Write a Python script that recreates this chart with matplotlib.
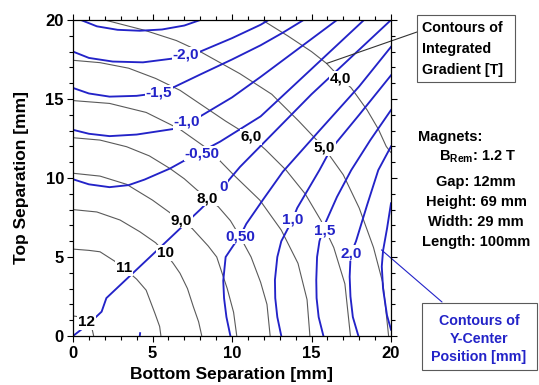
import matplotlib
matplotlib.use("Agg")
import matplotlib.pyplot as plt
from matplotlib.patches import Rectangle

plt.rcParams['font.family'] = ['Liberation Sans', 'DejaVu Sans']
plt.rcParams['font.weight'] = 'bold'

# --- contour traces (mm, mm) ---
# integrated gradient [T] (grey lines)
grad_12_x = [0, 0.5, 0.9, 1.2, 1.3]
grad_12_y = [1.27, 1.2, 0.9, 0.45, 0]
grad_11_x = [0, 1.0, 1.7, 2.6, 3.2, 4.0, 4.6, 5.15, 5.45, 5.53]
grad_11_y = [5.5, 5.42, 5.33, 4.75, 4.3, 3.6, 2.9, 1.44, 0.6, 0]
grad_10_x = [0, 1.5, 2.96, 4.2, 5.2, 5.8, 6.3, 6.73, 7.2, 7.57, 7.9, 8.1]
grad_10_y = [8.0, 7.85, 7.34, 6.6, 5.9, 5.25, 4.6, 3.97, 3.0, 1.85, 0.9, 0]
grad_9_x = [0, 1.7, 3.37, 5.0, 6.1, 6.8, 7.5, 8.5, 9.04, 9.7, 10.1, 10.3]
grad_9_y = [10.3, 10.12, 9.6, 8.6, 7.8, 7.34, 6.8, 5.7, 5.0, 3.0, 1.5, 0]
grad_8_x = [0, 1.7, 3.37, 4.8, 6.1, 7.0, 7.8, 8.45, 9.14, 9.9, 10.5, 11.2, 11.8, 12.2, 12.4]
grad_8_y = [12.55, 12.4, 11.98, 11.4, 10.6, 9.95, 9.24, 8.7, 8.18, 7.3, 6.3, 5.0, 3.4, 2.0, 0]
grad_7_x = [0, 2.3, 4.6, 6.7, 8.6, 10.15, 11.75, 13.1, 14.15, 14.72, 14.9]
grad_7_y = [14.9, 14.72, 14.15, 13.1, 11.75, 10.15, 8.6, 6.7, 4.6, 2.3, 0]
grad_6_x = [0, 1.7, 3.5, 5.2, 6.73, 8.2, 9.6, 11.2, 12.1, 13.4, 14.6, 15.6, 16.4, 17.1, 17.45]
grad_6_y = [17.45, 17.3, 16.95, 16.3, 15.55, 14.55, 13.6, 12.6, 11.8, 10.5, 9.0, 7.3, 5.6, 3.3, 0]
grad_5_x = [2.0, 4.5, 6.5, 8.0, 10.5, 12.5, 14.2, 15.8, 17.0, 18.0, 18.9, 19.5, 19.85]
grad_5_y = [20, 19.35, 18.7, 18.0, 16.6, 15.3, 13.6, 11.9, 10.2, 8.1, 5.6, 3.3, 0]
grad_4_x = [11.9, 13.5, 15.0, 15.95, 16.85, 17.5, 18.5, 19.2, 19.7, 20]
grad_4_y = [20, 19.0, 18.0, 17.25, 16.3, 15.7, 14.3, 13.1, 12.0, 11.6]

# y-center position [mm] (blue lines)
ypos_m25_x = [0.5, 1.5, 2.8, 4.2, 5.6, 7.0, 8.0]
ypos_m25_y = [20, 19.6, 19.38, 19.32, 19.4, 19.65, 20]
ypos_m20_x = [0, 1, 2.5, 4.4, 6.2, 8.0, 10.0, 11.8, 12.3]
ypos_m20_y = [18.0, 17.6, 17.37, 17.32, 17.55, 18.0, 18.85, 19.7, 20]
ypos_m15_x = [0, 1, 2.3, 4.0, 5.4, 6.2, 8.0, 10.0, 11.8, 13.2, 14.5]
ypos_m15_y = [15.7, 15.35, 15.15, 15.2, 15.38, 15.68, 16.55, 17.5, 18.4, 19.2, 20]
ypos_m10_x = [0, 1, 2.3, 4.0, 6.3, 8.0, 10.0, 11.8, 14.2, 16.6]
ypos_m10_y = [13.05, 12.8, 12.65, 12.75, 13.1, 13.9, 15.1, 16.4, 18.2, 20]
ypos_m05_x = [0, 1, 2.3, 3.5, 4.5, 6.1, 7.0, 9.25, 11.8, 15.0, 18.3]
ypos_m05_y = [9.92, 9.6, 9.42, 9.55, 9.9, 10.6, 11.1, 12.3, 13.9, 16.9, 20]
ypos_0_x = [0, 1.0, 1.8, 2.1, 5.0, 8.0, 9.45, 10.5, 15.0, 20]
ypos_0_y = [0, 0.78, 1.54, 2.4, 5.15, 8.0, 9.45, 10.7, 15.3, 20]
ypos_p05_x = [9.9, 9.65, 9.5, 9.45, 9.6, 10.1, 10.5, 10.9, 12.0, 13.2, 15.5, 18.0, 20]
ypos_p05_y = [0, 1.2, 2.4, 3.5, 5.0, 5.75, 6.3, 7.1, 8.7, 10.4, 13.0, 15.8, 18.3]
ypos_p10_x = [13.1, 12.85, 12.72, 12.7, 12.85, 13.1, 13.8, 14.1, 15.5, 16.2, 18.0, 20]
ypos_p10_y = [0, 1.2, 2.4, 3.55, 5.0, 6.0, 7.35, 8.1, 10.5, 11.8, 14.0, 16.5]
ypos_p15_x = [15.75, 15.45, 15.32, 15.3, 15.35, 15.5, 15.85, 16.6, 17.5, 18.7, 20]
ypos_p15_y = [0, 1.2, 2.4, 3.55, 5.0, 6.0, 7.1, 8.8, 10.5, 12.4, 14.3]
ypos_p20_x = [17.95, 17.6, 17.45, 17.4, 17.45, 17.6, 17.8, 18.5, 19.2, 20]
ypos_p20_y = [0, 1.2, 2.5, 3.75, 4.9, 5.5, 6.0, 8.3, 10.5, 12.0]
ypos_p25_x = [20, 19.75, 19.5, 19.42, 19.5, 19.75, 20]
ypos_p25_y = [8.4, 6.8, 5.4, 4.4, 3.0, 1.3, 0.4]
ypos_stub_x = [4.2, 4.22]
ypos_stub_y = [0, 0.18]

# contour labels: text and where they sit
grad_labels = ["12", "11", "10", "9,0", "8,0", "6,0", "5,0", "4,0"]
grad_label_x = [0.85, 3.2, 5.8, 6.8, 8.45, 11.2, 15.8, 16.85]
grad_label_y = [0.9, 4.3, 5.25, 7.34, 8.7, 12.6, 11.9, 16.3]
ypos_labels = ["-2,0", "-1,5", "-1,0", "-0,50", "0", "0,50", "1,0", "1,5", "2,0"]
ypos_label_x = [7.1, 5.4, 7.15, 8.1, 9.45, 10.5, 13.8, 15.8, 17.5]
ypos_label_y = [17.8, 15.4, 13.55, 11.55, 9.45, 6.3, 7.35, 6.7, 5.25]

ticks = [0, 5, 10, 15, 20]
magnet_lines = ["Gap: 12mm", "Height: 69 mm", "Width: 29 mm", "Length: 100mm"]

W, H = 539, 385
BLUE = '#2323c8'
GREY = '#5a5a5a'


def px(x, y):
    """figure-pixel position (from top-left) -> figure fraction"""
    return x / W, 1 - y / H


def main():
    fig = plt.figure(figsize=(W / 100, H / 100), dpi=100)
    ax = fig.add_axes([73 / W, 1 - 336 / H, 318 / W, 316 / H])

    grad_lines = [(grad_12_x, grad_12_y), (grad_11_x, grad_11_y), (grad_10_x, grad_10_y),
                  (grad_9_x, grad_9_y), (grad_8_x, grad_8_y), (grad_7_x, grad_7_y),
                  (grad_6_x, grad_6_y), (grad_5_x, grad_5_y), (grad_4_x, grad_4_y)]
    for xs, ys in grad_lines:
        ax.plot(xs, ys, color=GREY, lw=0.8, zorder=2, solid_capstyle='butt')

    ypos_lines = [(ypos_m25_x, ypos_m25_y), (ypos_m20_x, ypos_m20_y), (ypos_m15_x, ypos_m15_y),
                  (ypos_m10_x, ypos_m10_y), (ypos_m05_x, ypos_m05_y), (ypos_0_x, ypos_0_y),
                  (ypos_p05_x, ypos_p05_y), (ypos_p10_x, ypos_p10_y), (ypos_p15_x, ypos_p15_y),
                  (ypos_p20_x, ypos_p20_y), (ypos_p25_x, ypos_p25_y), (ypos_stub_x, ypos_stub_y)]
    for xs, ys in ypos_lines:
        ax.plot(xs, ys, color=BLUE, lw=1.35, zorder=3)

    box = dict(boxstyle='square,pad=0.05', fc='white', ec='none')
    for t, x, y in zip(grad_labels, grad_label_x, grad_label_y):
        ax.text(x, y, t, ha='center', va='center', fontsize=11, fontweight='bold',
                color='black', bbox=box, zorder=4)
    for t, x, y in zip(ypos_labels, ypos_label_x, ypos_label_y):
        ax.text(x, y, t, ha='center', va='center', fontsize=11, fontweight='bold',
                color=BLUE, bbox=box, zorder=4)

    # axes formatting
    ax.set_xlim(0, 20)
    ax.set_ylim(0, 20)
    ax.set_xticks(ticks)
    ax.set_yticks(ticks)
    ax.set_xticks(range(0, 21), minor=True)
    ax.set_yticks(range(0, 21), minor=True)
    ax.tick_params(which='both', direction='out', top=True, right=True, width=0.8)
    ax.tick_params(which='major', length=4.5, labelsize=12)
    ax.tick_params(which='minor', length=2.8)
    ax.tick_params(axis='x', pad=3)
    ax.tick_params(axis='y', pad=2)
    for lab in ax.get_xticklabels() + ax.get_yticklabels():
        lab.set_fontweight('bold')
    for sp in ax.spines.values():
        sp.set_linewidth(0.9)
        sp.set_zorder(5)

    fig.text(*px(232, 375), 'Bottom Separation [mm]', ha='center', va='center',
             fontsize=12.5, fontweight='bold')
    fig.text(*px(22, 178), 'Top Separation [mm]', ha='center', va='center',
             rotation=90, fontsize=12.5, fontweight='bold')

    # gradient legend box + leader
    fig.add_artist(Rectangle(px(416.7, 81.7), 98.3 / W, 66.7 / H, transform=fig.transFigure,
                             fill=False, ec=GREY, lw=0.8))
    for t, y in zip(["Contours of", "Integrated", "Gradient [T]"], [28, 49, 70]):
        fig.text(*px(422, y), t, ha='left', va='center', fontsize=10.3, fontweight='bold')
    ax.annotate('', xy=(15.95, 17.25), xycoords='data', xytext=(417, H - 32),
                textcoords='figure pixels',
                arrowprops=dict(arrowstyle='-', color='#333333', lw=0.8, shrinkA=0, shrinkB=0))

    # y-center legend box + leader
    fig.add_artist(Rectangle(px(421.7, 370), 115 / W, 66.7 / H, transform=fig.transFigure,
                             fill=False, ec=GREY, lw=0.8))
    for t, y in zip(["Contours of", "Y-Center", "Position [mm]"], [321, 339, 357]):
        fig.text(*px(479, y), t, ha='center', va='center', fontsize=10.3,
                 fontweight='bold', color=BLUE)
    ax.annotate('', xy=(19.4, 5.45), xycoords='data', xytext=(442, H - 302),
                textcoords='figure pixels', annotation_clip=False,
                arrowprops=dict(arrowstyle='-', color=BLUE, lw=0.8, shrinkA=0, shrinkB=0))

    # magnet parameters
    fig.text(*px(418, 137), 'Magnets:', ha='left', va='center', fontsize=10.5, fontweight='bold')
    fig.text(*px(478, 157), r'B$_{\mathregular{Rem}}$: 1.2 T', ha='center', va='center',
             fontsize=10.5, fontweight='bold')
    for t, y in zip(magnet_lines, [182, 202, 222, 242]):
        fig.text(*px(476, y), t, ha='center', va='center', fontsize=10.5, fontweight='bold')

    fig.savefig('out.png', dpi=100)


if __name__ == "__main__":
    main()
